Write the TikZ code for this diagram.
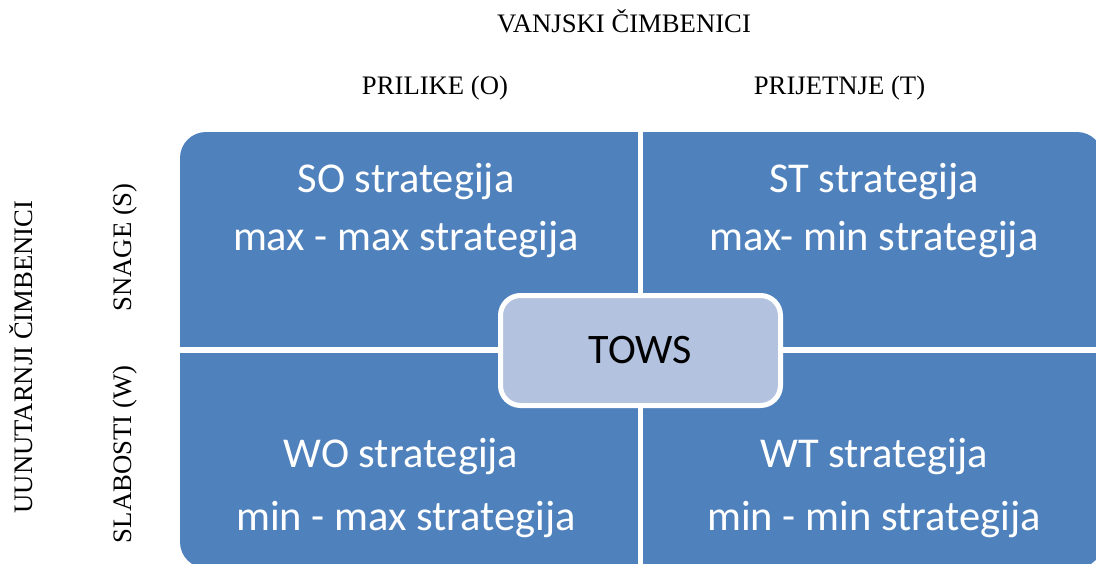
\documentclass[tikz,border=0pt]{standalone}
\usepackage{fontspec}
\setmainfont{Liberation Serif}
\newfontfamily\calib{Carlito}
\definecolor{quadblue}{HTML}{4F81BD}
\definecolor{towsfill}{HTML}{B3C2DE}
\begin{document}
\begin{tikzpicture}[x=1pt,y=-1pt,
  lbl/.style={font=\fontsize{26.7}{30}\selectfont, inner sep=0pt, anchor=base},
  rlbl/.style={lbl, rotate=90},
  qtext/.style={font=\calib\fontsize{42.5}{48}\selectfont, text=white, inner sep=0pt, anchor=base},
  towsbox/.style={draw=white, line width=5pt, fill=towsfill, rounded corners=20pt,
    minimum width=280pt, minimum height=110pt, inner sep=0pt,
    font=\calib\fontsize{42}{48}\selectfont, text=black}]
\useasboundingbox (0,0) rectangle (1096,563);
\begin{scope}
\clip (0,0) rectangle (1096,563);
\fill[quadblue, rounded corners=26pt] (180,132) rectangle (1103,568);
\fill[white] (637.8,125) rectangle (642.8,570);
\fill[white] (175,347) rectangle (1100,353);
\end{scope}
% headers
\node[lbl] (vanj) at (624,32) {VANJSKI ČIMBENICI};
\node[lbl] (pril) at (435,94) {PRILIKE (O)};
\node[lbl] (prij) at (839.5,94) {PRIJETNJE (T)};
\node[rlbl] (unut) at (32.5,357) {UUNUTARNJI ČIMBENICI};
\node[rlbl] (snag) at (131.5,247.5) {SNAGE (S)};
\node[rlbl] (slab) at (131.5,454.5) {SLABOSTI (W)};
% quadrant texts
\node[qtext] (so1) at (406,192) {SO strategija};
\node[qtext] (so2) at (406,250) {max - max strategija};
\node[qtext] (st1) at (874,192) {ST strategija};
\node[qtext] (st2) at (874,250) {max- min strategija};
\node[qtext] (wo1) at (401,467) {WO strategija};
\node[qtext] (wo2) at (406,530) {min - max strategija};
\node[qtext] (wt1) at (874,467) {WT strategija};
\node[qtext] (wt2) at (874,530) {min - min strategija};
% centre
\node[towsbox] (tows) at (640.5,350.5) {TOWS};
\end{tikzpicture}
\end{document}
